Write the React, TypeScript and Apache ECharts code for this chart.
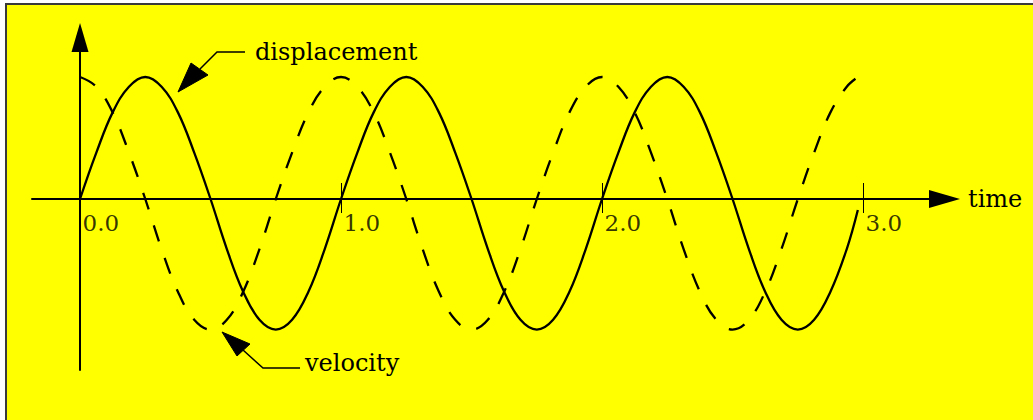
import React, { useEffect, useRef } from "react";
import * as echarts from "echarts";

// time samples (s)
const time = [
  0, 0.0625, 0.125, 0.1875, 0.25, 0.3125, 0.375, 0.4375,
  0.5, 0.5625, 0.625, 0.6875, 0.75, 0.8125, 0.875, 0.9375,
  1.0, 1.0625, 1.125, 1.1875, 1.25, 1.3125, 1.375, 1.4375,
  1.5, 1.5625, 1.625, 1.6875, 1.75, 1.8125, 1.875, 1.9375,
  2.0, 2.0625, 2.125, 2.1875, 2.25, 2.3125, 2.375, 2.4375,
  2.5, 2.5625, 2.625, 2.6875, 2.75, 2.8125, 2.875, 2.9375,
  2.98,
];

// solid curve
const displacement = [
  0, 0.38, 0.71, 0.92, 1.0, 0.92, 0.71, 0.38,
  0, -0.41, -0.76, -0.99, -1.07, -0.99, -0.76, -0.41,
  0, 0.38, 0.71, 0.92, 1.0, 0.92, 0.71, 0.38,
  0, -0.41, -0.76, -0.99, -1.07, -0.99, -0.76, -0.41,
  0, 0.38, 0.71, 0.92, 1.0, 0.92, 0.71, 0.38,
  0, -0.41, -0.76, -0.99, -1.07, -0.99, -0.76, -0.41,
  -0.09,
];

// dashed curve
const velocity = [
  1.0, 0.92, 0.71, 0.38, 0, -0.41, -0.76, -0.99,
  -1.07, -0.99, -0.76, -0.41, 0, 0.38, 0.71, 0.92,
  1.0, 0.92, 0.71, 0.38, 0, -0.41, -0.76, -0.99,
  -1.07, -0.99, -0.76, -0.41, 0, 0.38, 0.71, 0.92,
  1.0, 0.92, 0.71, 0.38, 0, -0.41, -0.76, -0.99,
  -1.07, -0.99, -0.76, -0.41, 0, 0.38, 0.71, 0.92,
  1.0,
];

const tickValues = [0, 1, 2, 3];
const tickLabels = ["0.0", "1.0", "2.0", "3.0"];
const xAxisName = "time";
const dispLabel = "displacement";
const velLabel = "velocity";

const FONT = "DejaVu Serif";

export default function App() {
  const ref = useRef<HTMLDivElement>(null);

  useEffect(() => {
    const chart = echarts.init(ref.current!, null, { renderer: "svg" });
    const black = "#000000";
    const xMin = -0.184;
    const xMax = 3.312;

    chart.setOption({
      animation: false,
      backgroundColor: "#ffffff",
      grid: { left: 32, right: 88.5, top: 37.5, bottom: 50, containLabel: false },
      xAxis: [
        {
          type: "value",
          min: xMin,
          max: xMax,
          position: "bottom",
          axisLine: {
            onZero: true,
            onZeroAxisIndex: 0,
            lineStyle: { color: black, width: 2 },
            symbol: ["none", "triangle"],
            symbolSize: [18, 31],
          },
          axisTick: {
            show: true,
            customValues: tickValues,
            length: 14,
            lineStyle: { color: black, width: 1 },
          },
          axisLabel: { show: false },
          splitLine: { show: false },
          name: xAxisName,
          nameLocation: "end",
          nameGap: 23.5,
          nameTextStyle: {
            fontFamily: FONT,
            fontSize: 24,
            color: black,
            align: "left",
            verticalAlign: "middle",
          },
        },
        {
          type: "value",
          min: xMin,
          max: xMax,
          position: "top",
          axisLine: { show: false, onZero: true, onZeroAxisIndex: 0 },
          axisTick: {
            show: true,
            customValues: tickValues,
            length: 16,
            lineStyle: { color: black, width: 1 },
          },
          axisLabel: { show: false },
          splitLine: { show: false },
        },
      ],
      yAxis: {
        type: "value",
        min: -1.4016,
        max: 1.3238,
        axisLine: {
          onZero: true,
          lineStyle: { color: black, width: 2 },
          symbol: ["none", "triangle"],
          symbolSize: [17, 29],
        },
        axisTick: { show: false },
        axisLabel: { show: false },
        splitLine: { show: false },
      },
      series: [
        {
          type: "line",
          name: dispLabel,
          xAxisIndex: 0,
          data: time.map((t, i) => [t, displacement[i]]),
          showSymbol: false,
          smooth: 0.4,
          lineStyle: { color: black, width: 2.3 },
        },
        {
          type: "line",
          name: velLabel,
          xAxisIndex: 0,
          data: time.map((t, i) => [t, velocity[i]]),
          showSymbol: false,
          smooth: 0.4,
          lineStyle: { color: black, width: 2.3, type: [17, 17] },
        },
        {
          type: "scatter",
          name: "tickLabels",
          xAxisIndex: 0,
          silent: true,
          symbol: "rect",
          symbolSize: 1,
          itemStyle: { color: "rgba(0,0,0,0)" },
          data: tickValues.map((v) => [v, 0]),
          label: {
            show: true,
            position: [3, 13],
            align: "left",
            verticalAlign: "top",
            formatter: (p: any) => tickLabels[p.dataIndex],
            color: black,
            fontFamily: FONT,
            fontSize: 23,
          },
          labelLayout: { hideOverlap: false },
        },
      ],
      graphic: [
        {
          type: "rect",
          z: -10,
          silent: true,
          shape: { x: 6, y: 4, width: 1040, height: 430 },
          style: { fill: "#ffff00", stroke: "#3a3a3a", lineWidth: 2 },
        },
        {
          type: "polyline",
          z: 10,
          shape: { points: [[245, 52], [217, 52], [200, 69]] },
          style: { stroke: black, lineWidth: 1.5, fill: null },
        },
        {
          type: "polygon",
          z: 10,
          shape: { points: [[178, 92], [191, 63], [208, 75]] },
          style: { fill: black, stroke: black, lineWidth: 1 },
        },
        {
          type: "text",
          z: 10,
          x: 255,
          y: 52,
          style: {
            text: dispLabel,
            font: `24px "${FONT}"`,
            fill: black,
            align: "left",
            verticalAlign: "middle",
          },
        },
        {
          type: "polyline",
          z: 10,
          shape: { points: [[300, 368], [263, 368], [243, 350]] },
          style: { stroke: black, lineWidth: 1.5, fill: null },
        },
        {
          type: "polygon",
          z: 10,
          shape: { points: [[222, 332], [250, 344], [237, 356]] },
          style: { fill: black, stroke: black, lineWidth: 1 },
        },
        {
          type: "text",
          z: 10,
          x: 305,
          y: 363,
          style: {
            text: velLabel,
            font: `24px "${FONT}"`,
            fill: black,
            align: "left",
            verticalAlign: "middle",
          },
        },
      ],
    });

    return () => chart.dispose();
  }, []);

  return (
    <div
      ref={ref}
      style={{ position: "fixed", left: 0, top: 0, width: 1033, height: 420 }}
    />
  );
}
